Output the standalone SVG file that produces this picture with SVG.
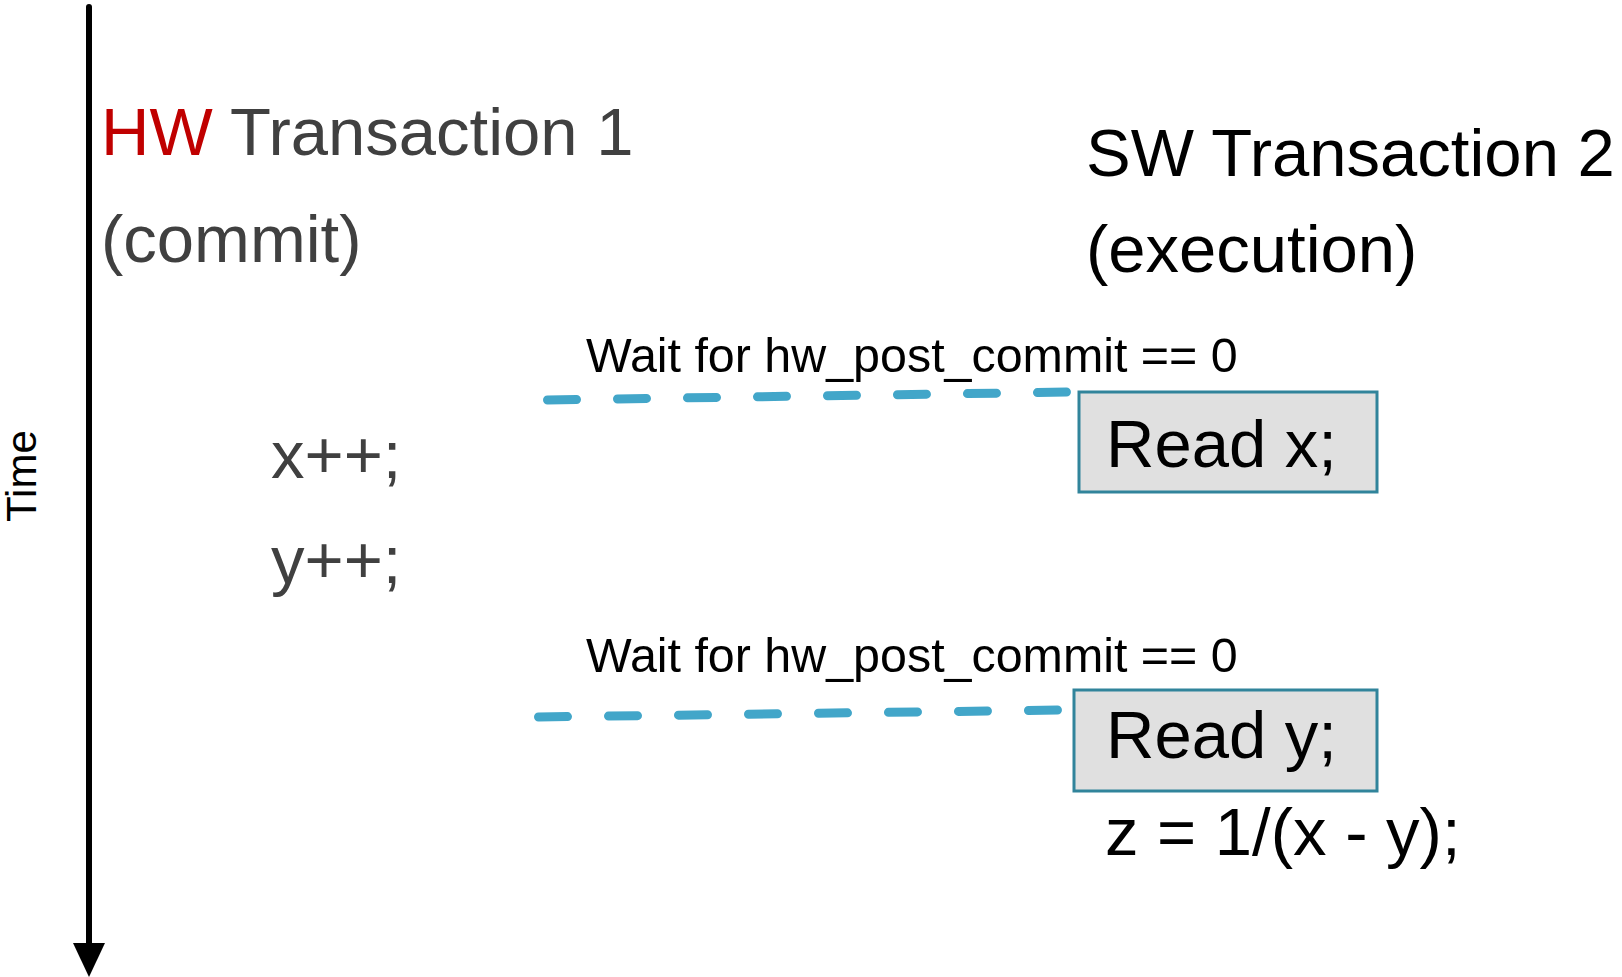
<svg xmlns="http://www.w3.org/2000/svg" width="1622" height="977" viewBox="0 0 1622 977">
  <style>
    text { font-family: "Liberation Sans", Arial, sans-serif; }
    .title { font-size: 67px; }
    .gray { fill: #404040; }
    .black { fill: #000000; }
    .hw { fill: #c00000; }
    .wait { font-size: 48.4px; fill: #000000; }
    .code { font-size: 67px; }
    .box { fill: #e0e0e0; stroke: #31849b; stroke-width: 3; }
    .sync { fill: none; stroke: #42a6c9; stroke-width: 9; stroke-linecap: round; stroke-dasharray: 29 41; }
  </style>

  <!-- time axis -->
  <g id="time-axis">
    <line x1="89" y1="7" x2="89" y2="945" stroke="#000" stroke-width="6" stroke-linecap="round"/>
    <polygon points="73,943 105,943 89,977" fill="#000"/>
    <text transform="translate(36,522) rotate(-90)" font-size="42" class="black">Time</text>
  </g>

  <!-- hardware transaction column -->
  <g id="hw-transaction">
    <text x="101" y="155" class="title"><tspan class="hw">HW</tspan><tspan class="gray"> Transaction 1</tspan></text>
    <text x="101" y="262" class="title gray">(commit)</text>
  </g>
  <g id="hw-x-inc">
    <text x="271" y="478" class="code gray">x++;</text>
  </g>
  <g id="hw-y-inc">
    <text x="271" y="583" class="code gray">y++;</text>
  </g>

  <!-- software transaction column -->
  <g id="sw-transaction">
    <text x="1086" y="176" class="title black">SW Transaction 2</text>
    <text x="1086" y="272" class="title black">(execution)</text>
  </g>
  <g id="read-x">
    <rect x="1079" y="392" width="298" height="100" class="box"/>
    <text x="1106" y="467" class="code black">Read x;</text>
  </g>
  <g id="read-y">
    <rect x="1074" y="690" width="303" height="101" class="box"/>
    <text x="1106" y="758" class="code black">Read y;</text>
  </g>
  <g id="compute-z">
    <text x="1105" y="855" class="code black">z = 1/(x - y);</text>
  </g>

  <!-- wait points -->
  <g id="connectors">
    <path d="M547.5 400 L1071 392" class="sync"/>
    <text x="586" y="372" class="wait">Wait for hw_post_commit == 0</text>
    <path d="M538.5 717 L1062 710" class="sync"/>
    <text x="586" y="672" class="wait">Wait for hw_post_commit == 0</text>
  </g>
</svg>
